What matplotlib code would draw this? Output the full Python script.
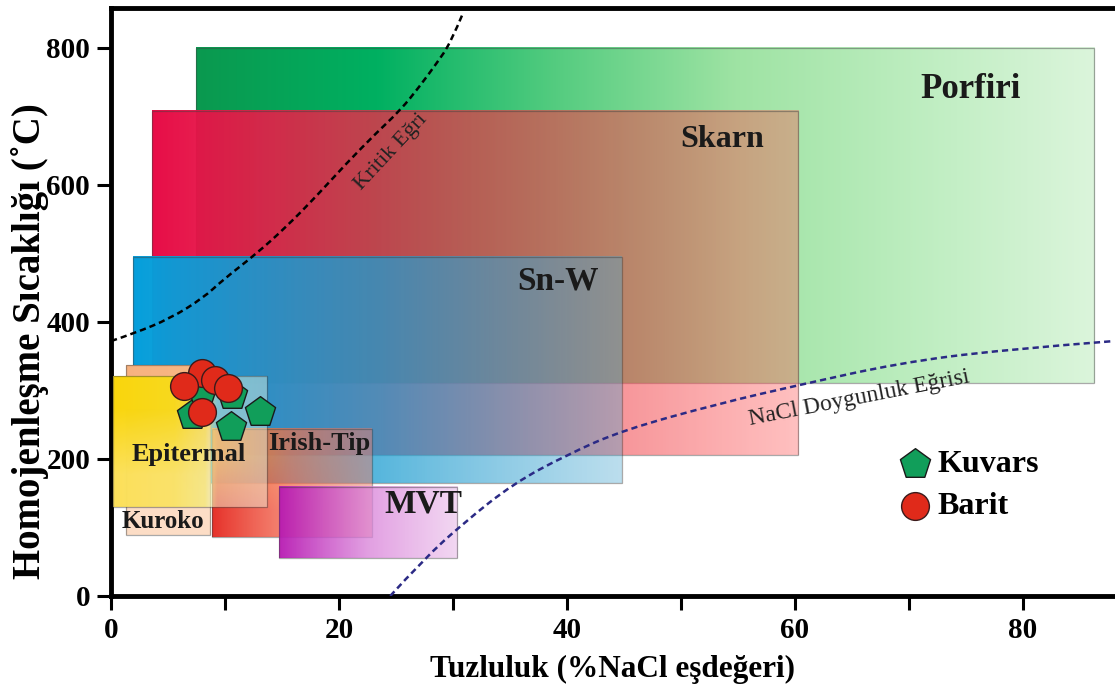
import numpy as np
import matplotlib.pyplot as plt
from matplotlib.patches import Rectangle, PathPatch
from matplotlib.path import Path

plt.rcParams['font.family'] = ['Liberation Serif', 'DejaVu Serif']

# deposit fields: salinity range (wt% NaCl eq.) and homogenisation temperature range
fields = ['Porfiri', 'Skarn', 'Sn-W', 'Kuroko', 'Irish-Tip', 'Epitermal', 'MVT']
sal_min = [7.5, 3.6, 1.9, 1.3, 8.9, 0.2, 14.7]
sal_max = [86.3, 60.3, 44.8, 8.7, 22.9, 13.7, 30.4]
t_min = [311, 206, 165, 89, 86, 130, 55]
t_max = [800, 708, 495, 337, 244, 321, 159]

# critical curve and NaCl saturation curve
crit_sal = [0, 2.0, 5.2, 8.1, 9.8, 12.8, 15.4, 18.0, 20.7, 23.3, 25.4, 27.1, 28.6, 29.8, 30.9]
crit_t = [372, 383, 405, 435, 461, 500, 539, 583, 632, 676, 709, 744, 778, 807, 851]
sat_sal = [24.5, 27.4, 30.9, 35.3, 40.0, 44.9, 53.4, 60.4, 69.2, 78.0, 88.0]
sat_t = [0, 53, 106, 164, 206, 242, 281, 308, 340, 359, 372]

# fluid inclusion measurements
kuvars_sal = [7.1, 8.0, 10.6, 13.1, 10.5]
kuvars_t = [264, 301, 293, 269, 246]
barit_sal = [8.0, 6.4, 9.1, 10.3, 8.0]
barit_t = [325, 306, 315, 303, 269]

# label positions of the fields
lab_x = [75.4, 53.6, 39.2, 4.6, 18.3, 6.8, 27.4]
lab_y = [739, 666, 459, 109, 222, 207, 134]
lab_size = [25, 23, 24, 18, 19, 19, 24]


def ramp(cols, pos=None, n=256):
    cols = np.asarray(cols, float)
    t = np.linspace(0, 1, n)
    if pos is None:
        pos = np.linspace(0, 1, len(cols))
    return np.stack([np.interp(t, pos, cols[:, c]) for c in range(cols.shape[1])], axis=-1)


def draw_field(ax, i, bottom, top=None, pos=None, z=1):
    # bottom/top: RGBA stops from left to right (top optional for a vertical blend)
    rows = [ramp(bottom, pos)]
    rows.append(ramp(top, pos) if top is not None else rows[0])
    img = np.stack(rows, axis=0)
    ext = (sal_min[i], sal_max[i], t_min[i], t_max[i])
    ax.imshow(img, extent=ext, origin='lower', aspect='auto',
              interpolation='bilinear', zorder=z)
    ax.add_patch(Rectangle((sal_min[i], t_min[i]), sal_max[i] - sal_min[i],
                           t_max[i] - t_min[i], fill=False, lw=0.9,
                           ec=(0.25, 0.25, 0.25, 0.45), zorder=z + 0.01))


def smooth(xs, ys):
    # quadratic spline through the midpoints of the control polygon
    p = np.column_stack([xs, ys]).astype(float)
    verts, codes = [p[0]], [Path.MOVETO]
    for k in range(1, len(p) - 1):
        end = (p[k] + p[k + 1]) / 2 if k < len(p) - 2 else p[k + 1]
        verts += [p[k], end]
        codes += [Path.CURVE3, Path.CURVE3]
    return Path(verts, codes)


fig = plt.figure(figsize=(11.15, 6.91), dpi=100)
ax = fig.add_axes([111 / 1115, 95 / 691, 1004 / 1115, 588 / 691])

# Porfiri
draw_field(ax, 0, [(0.04, 0.60, 0.31, 1), (0.0, 0.69, 0.38, 1), (0.33, 0.80, 0.50, 1),
                   (0.62, 0.89, 0.64, 1), (0.74, 0.93, 0.75, 1), (0.86, 0.96, 0.86, 1)], z=1)
# Skarn
draw_field(ax, 1, [(0.91, 0.05, 0.28, 1.0), (0.90, 0.25, 0.30, 0.75),
                   (1.0, 0.33, 0.33, 0.37)], z=2)
# Sn-W
draw_field(ax, 2, [(0.02, 0.62, 0.86, 1.0), (0.12, 0.62, 0.82, 0.75),
                   (0.30, 0.66, 0.82, 0.38)], z=3)
# Kuroko
draw_field(ax, 3, [(0.99, 0.87, 0.78, 1), (0.99, 0.87, 0.78, 1)],
           top=[(0.97, 0.70, 0.50, 1), (0.97, 0.72, 0.52, 1)], z=4)
# Irish-Tip
draw_field(ax, 4, [(0.90, 0.15, 0.12, 0.95), (0.95, 0.40, 0.30, 0.75), (0.95, 0.50, 0.40, 0.5)],
           top=[(1.0, 0.50, 0.05, 0.95), (0.95, 0.45, 0.30, 0.7), (0.90, 0.50, 0.45, 0.5)], z=5)
# Epitermal
draw_field(ax, 5, [(0.99, 0.88, 0.35, 1.0), (0.98, 0.89, 0.40, 0.95), (0.96, 0.91, 0.50, 0.85),
                   (0.92, 0.96, 0.85, 0.5), (0.92, 0.96, 0.88, 0.45)],
           top=[(0.98, 0.84, 0.05, 1.0), (0.97, 0.85, 0.12, 1.0), (0.96, 0.88, 0.35, 0.85),
                (0.90, 0.96, 0.85, 0.5), (0.90, 0.96, 0.88, 0.45)],
           pos=[0, 0.4, 0.6, 0.68, 1], z=6)
# MVT
draw_field(ax, 6, [(0.72, 0.10, 0.70, 0.95), (0.85, 0.50, 0.85, 0.75),
                   (0.93, 0.78, 0.93, 0.7)], z=7)

for name, x, y, s in zip(fields, lab_x, lab_y, lab_size):
    ax.text(x, y, name, fontsize=s, fontweight='bold', color='#1a1a1a',
            ha='center', va='center', zorder=10)

# curves
ax.add_patch(PathPatch(smooth(crit_sal, crit_t), fill=False, ec='black', lw=1.8,
                       ls=(0, (2.5, 1.6)), zorder=9))
ax.add_patch(PathPatch(smooth(sat_sal, sat_t), fill=False, ec='#2b2a85', lw=1.8,
                       ls=(0, (2.5, 1.6)), zorder=9))
ax.text(24.6, 648, 'Kritik Eğri', fontsize=16, rotation=47, color='#222222',
        ha='center', va='center', zorder=10, rotation_mode='anchor')
ax.text(65.7, 288, 'NaCl Doygunluk Eğrisi', fontsize=17, rotation=11, color='#222222',
        ha='center', va='center', zorder=10, rotation_mode='anchor')

# measurements
ax.scatter(kuvars_sal, kuvars_t, marker='p', s=520, c='#119e5a', edgecolors='#1a1a1a',
           linewidths=1.0, zorder=11, label='Kuvars')
ax.scatter(barit_sal, barit_t, marker='o', s=400, c='#e02a1a', edgecolors='#3a1a1a',
           linewidths=1.0, zorder=12, label='Barit')

ax.legend(loc='upper left', bbox_to_anchor=((899 - 111) / 1004, (596 - 450) / 588),
          frameon=False, prop={'weight': 'bold', 'size': 23}, handlelength=1.0,
          handletextpad=0.2, labelspacing=0.4, borderaxespad=0, borderpad=0)

ax.set_xlim(0, 88.1)
ax.set_ylim(0, 858)
ax.set_xticks(np.arange(0, 81, 10))
ax.set_xticklabels(['0', '', '20', '', '40', '', '60', '', '80'])
ax.set_yticks([0, 200, 400, 600, 800])
ax.tick_params(axis='both', direction='out', length=10, width=2.2, labelsize=21, pad=5)
for lab in ax.get_xticklabels() + ax.get_yticklabels():
    lab.set_fontweight('bold')

for side in ['left', 'bottom', 'top']:
    ax.spines[side].set_linewidth(3.5)
ax.spines['right'].set_visible(False)

ax.set_xlabel('Tuzluluk (%NaCl eşdeğeri)', fontsize=22.5, fontweight='bold', labelpad=8)
ax.set_ylabel('Homojenleşme Sıcaklığı (˚C)', fontsize=28, fontweight='bold')
ax.yaxis.set_label_coords(-0.062, 0.434)

fig.savefig('out.png', dpi=100, facecolor='white')
